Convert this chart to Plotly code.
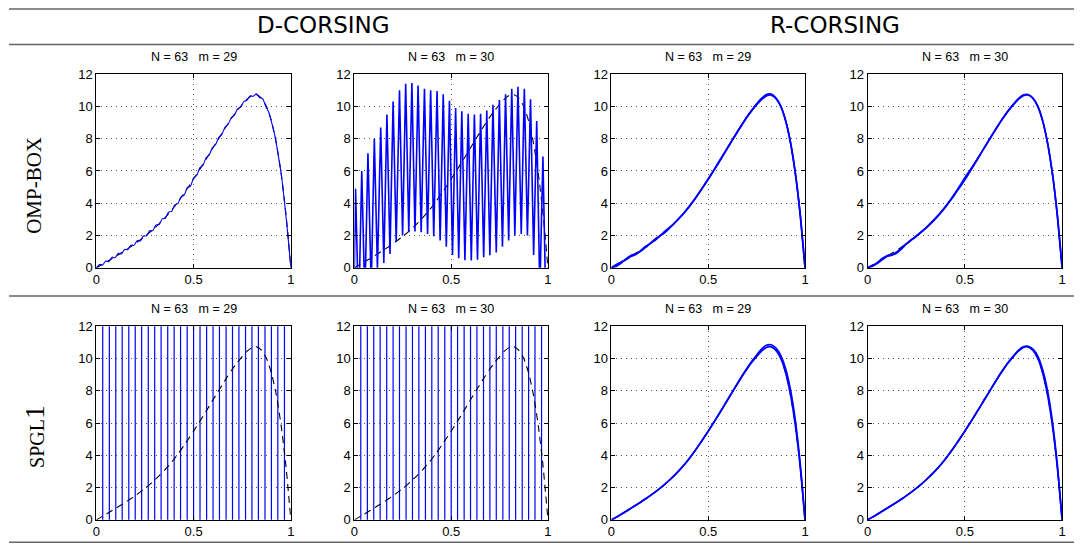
import numpy as np
import plotly.graph_objects as go
from plotly.subplots import make_subplots

W, H = 1083, 559
BLUE = "#0000ff"

# ---- exact solution on a uniform grid -------------------------------------
x_exact = np.linspace(0, 1, 41)
u_exact = [0, 0.17, 0.35, 0.53, 0.72, 0.9, 1.09, 1.29, 1.5, 1.72, 1.95, 2.2,
           2.47, 2.76, 3.07, 3.4, 3.77, 4.17, 4.6, 5.04, 5.5, 5.97, 6.45, 6.94,
           7.44, 7.93, 8.42, 8.9, 9.35, 9.76, 10.12, 10.45, 10.68, 10.72, 10.5,
           10.0, 9.1, 7.75, 5.85, 3.3, 0]

# ---- D-CORSING, OMP-BOX, m = 29 -------------------------------------------
x_fine = np.linspace(0, 1, 63)
u_omp_d29 = [0, 0.2, 0.18, 0.42, 0.38, 0.66, 0.62, 0.9, 0.86, 1.14, 1.12, 1.4,
             1.39, 1.68, 1.66, 1.97, 1.98, 2.3, 2.3, 2.65, 2.68, 3.03, 3.07,
             3.45, 3.5, 3.9, 3.98, 4.4, 4.5, 4.97, 5.06, 5.57, 5.72, 6.2, 6.35,
             6.82, 7.0, 7.45, 7.63, 8.07, 8.27, 8.71, 8.89, 9.3, 9.46, 9.84,
             9.95, 10.3, 10.38, 10.65, 10.63, 10.78, 10.55, 10.48, 10.0, 9.62,
             8.92, 8.1, 6.95, 5.72, 4.0, 2.12, 0]

# ---- D-CORSING, OMP-BOX, m = 30 (oscillating reconstruction) --------------
peak_x = [0.006, 0.038, 0.070, 0.103, 0.136, 0.168, 0.200, 0.233, 0.265, 0.297,
          0.329, 0.362, 0.394, 0.427, 0.459, 0.491, 0.523, 0.555, 0.588, 0.620,
          0.652, 0.684, 0.716, 0.749, 0.781, 0.813, 0.845, 0.878, 0.910, 0.942,
          0.974]
peak_u = [4.9, 6.0, 7.1, 8.0, 8.7, 9.5, 10.3, 11.0, 11.4, 11.45, 11.3, 11.1,
          11.0, 10.95, 10.75, 10.35, 9.9, 9.7, 9.55, 9.5, 9.55, 9.75, 10.1,
          10.4, 10.75, 11.1, 11.22, 11.1, 10.45, 9.1, 6.9]
trough_x = [0.022, 0.054, 0.087, 0.119, 0.152, 0.184, 0.216, 0.249, 0.281,
            0.313, 0.345, 0.378, 0.410, 0.443, 0.475, 0.507, 0.539, 0.571,
            0.604, 0.636, 0.668, 0.700, 0.733, 0.765, 0.797, 0.829, 0.862,
            0.894, 0.926, 0.958, 0.990]
trough_u = [-3.0, -2.0, -1.2, -0.1, 0.3, 0.85, 1.6, 2.0, 2.2, 2.25, 2.2, 2.1,
            1.95, 1.7, 1.3, 0.8, 0.6, 0.47, 0.45, 0.5, 0.65, 0.78, 0.95, 1.3,
            1.7, 2.0, 2.1, 2.0, 0.8, -1.5, -3.0]

# ---- D-CORSING, SPGL1: off-scale spikes ------------------------------------
spike_x = [0.033, 0.067, 0.100, 0.133, 0.167, 0.200, 0.233, 0.267, 0.300,
           0.333, 0.367, 0.400, 0.433, 0.467, 0.500, 0.533, 0.567, 0.600,
           0.633, 0.667, 0.700, 0.733, 0.767, 0.800, 0.833, 0.867, 0.900,
           0.933, 0.967]
spike_lo, spike_hi = -1.0e3, 1.0e3

# ---- R-CORSING reconstructions (two trials each) ---------------------------
u_omp_r29 = [
    [0, 0.1, 0.3, 0.55, 0.76, 0.86, 1.02, 1.25, 1.52, 1.78, 1.98, 2.25, 2.5,
     2.77, 3.07, 3.4, 3.78, 4.18, 4.61, 5.05, 5.52, 5.99, 6.48, 6.97, 7.46,
     7.95, 8.43, 8.9, 9.36, 9.78, 10.16, 10.5, 10.74, 10.76, 10.52, 10.02,
     9.1, 7.73, 5.82, 3.28, 0],
    [0, 0.2, 0.36, 0.5, 0.7, 0.82, 1.06, 1.32, 1.5, 1.7, 1.97, 2.18, 2.46,
     2.76, 3.08, 3.41, 3.76, 4.16, 4.59, 5.03, 5.48, 5.95, 6.43, 6.92, 7.42,
     7.91, 8.4, 8.88, 9.33, 9.74, 10.1, 10.42, 10.65, 10.7, 10.48, 9.98,
     9.12, 7.78, 5.88, 3.33, 0],
]
u_omp_r30 = [
    [0, 0.1, 0.28, 0.5, 0.7, 0.78, 0.92, 1.18, 1.48, 1.74, 1.98, 2.22, 2.48,
     2.78, 3.1, 3.43, 3.8, 4.2, 4.64, 5.1, 5.58, 6.02, 6.48, 6.95, 7.45,
     7.94, 8.43, 8.9, 9.35, 9.77, 10.14, 10.48, 10.7, 10.74, 10.52, 10.02,
     9.12, 7.76, 5.86, 3.3, 0],
    [0, 0.14, 0.32, 0.58, 0.75, 0.82, 0.98, 1.24, 1.5, 1.72, 1.94, 2.2, 2.46,
     2.74, 3.05, 3.38, 3.75, 4.15, 4.58, 5.0, 5.45, 5.93, 6.43, 6.93, 7.43,
     7.92, 8.41, 8.89, 9.34, 9.75, 10.11, 10.44, 10.67, 10.71, 10.49, 9.99,
     9.09, 7.73, 5.83, 3.28, 0],
]
u_spg_r29 = [
    [0, 0.16, 0.34, 0.52, 0.71, 0.9, 1.09, 1.29, 1.5, 1.72, 1.95, 2.2, 2.47,
     2.76, 3.07, 3.4, 3.77, 4.17, 4.6, 5.04, 5.5, 5.97, 6.45, 6.94, 7.44,
     7.94, 8.44, 8.93, 9.4, 9.83, 10.22, 10.58, 10.82, 10.85, 10.65, 10.18,
     9.35, 8.05, 6.15, 3.5, 0],
    [0, 0.17, 0.35, 0.53, 0.72, 0.9, 1.09, 1.29, 1.5, 1.72, 1.95, 2.2, 2.47,
     2.76, 3.07, 3.4, 3.77, 4.17, 4.6, 5.04, 5.5, 5.97, 6.45, 6.94, 7.44,
     7.93, 8.42, 8.9, 9.35, 9.76, 10.12, 10.45, 10.68, 10.72, 10.5, 10.0,
     9.1, 7.75, 5.85, 3.3, 0],
]
u_spg_r30 = [
    [0, 0.17, 0.35, 0.53, 0.72, 0.9, 1.09, 1.29, 1.5, 1.72, 1.95, 2.2, 2.47,
     2.76, 3.07, 3.4, 3.77, 4.17, 4.6, 5.04, 5.5, 5.97, 6.45, 6.94, 7.44,
     7.93, 8.43, 8.92, 9.38, 9.8, 10.17, 10.5, 10.72, 10.76, 10.58, 10.15,
     9.3, 8.0, 6.1, 3.45, 0],
    [0, 0.17, 0.35, 0.53, 0.72, 0.9, 1.09, 1.29, 1.5, 1.72, 1.95, 2.2, 2.47,
     2.76, 3.07, 3.4, 3.77, 4.17, 4.6, 5.04, 5.5, 5.97, 6.45, 6.94, 7.44,
     7.93, 8.42, 8.9, 9.35, 9.76, 10.12, 10.45, 10.68, 10.72, 10.5, 10.0,
     9.1, 7.75, 5.85, 3.3, 0],
]

panel_titles = ["N = 63\u00a0\u00a0\u00a0m = 29", "N = 63\u00a0\u00a0\u00a0m = 30"] * 4
x_ticks = [0, 0.5, 1]
x_ticktext = ["0", "0.5", "1"]
y_ticks = [0, 2, 4, 6, 8, 10, 12]

# ---- figure ----------------------------------------------------------------
fig = make_subplots(rows=2, cols=4)

col_px = [(93, 289), (353, 548), (612, 807), (870, 1066)]
row_px = [(69, 268), (328, 527)]


def exact_trace(row, col):
    fig.add_trace(go.Scatter(x=x_exact, y=u_exact, mode="lines",
                             line=dict(color="black", width=1.1, dash="7px,5px",
                                       shape="spline", smoothing=0.6),
                             hoverinfo="skip"), row=row, col=col)


def blue_trace(x, y, row, col, shape="linear", width=1.3):
    line = dict(color=BLUE, width=width, shape=shape)
    if shape == "spline":
        line["smoothing"] = 0.6
    fig.add_trace(go.Scatter(x=x, y=y, mode="lines", line=line,
                             hoverinfo="skip"), row=row, col=col)


# row 1, col 1
exact_trace(1, 1)
blue_trace(x_fine, u_omp_d29, 1, 1, shape="spline", width=1.1)

# row 1, col 2
osc_x, osc_u = [0.0], [0.0]
for px, pu, tx, tu in zip(peak_x, peak_u, trough_x, trough_u):
    osc_x += [px, tx]
    osc_u += [pu, tu]
osc_x.append(1.0)
osc_u.append(0.0)
exact_trace(1, 2)
blue_trace(osc_x, osc_u, 1, 2, width=1.6)

# row 1, cols 3-4
for c, curves in ((3, u_omp_r29), (4, u_omp_r30)):
    exact_trace(1, c)
    for u in curves:
        blue_trace(x_exact, u, 1, c, shape="spline", width=1.7)

# row 2, cols 1-2
sx, sy = [], []
for i, c in enumerate(spike_x):
    a, b = (spike_lo, spike_hi) if i % 2 == 0 else (spike_hi, spike_lo)
    sx += [c, c, None]
    sy += [a, b, None]
for c in (1, 2):
    blue_trace(sx, sy, 2, c, width=1.2)
    exact_trace(2, c)

# row 2, cols 3-4
for c, curves in ((3, u_spg_r29), (4, u_spg_r30)):
    exact_trace(2, c)
    for u in curves:
        blue_trace(x_exact, u, 2, c, shape="spline", width=1.7)

# axes layout
tick_font = dict(family="Liberation Sans, Arial, sans-serif", size=13, color="black")
axis_common = dict(showline=True, linecolor="black", linewidth=1, mirror="ticks",
                   ticks="inside", ticklen=4, tickcolor="black",
                   showgrid=True, gridcolor="#555", griddash="1px,4px", gridwidth=1,
                   zeroline=False, tickfont=tick_font)

layout_axes = {}
annotations = []
for r in range(2):
    for c in range(4):
        idx = r * 4 + c + 1
        suffix = "" if idx == 1 else str(idx)
        x0, x1 = col_px[c]
        y0, y1 = row_px[r]
        layout_axes["xaxis" + suffix] = dict(axis_common, domain=[x0 / W, x1 / W],
                                             range=[0, 1], tickvals=x_ticks,
                                             ticktext=x_ticktext)
        layout_axes["yaxis" + suffix] = dict(axis_common, domain=[1 - y1 / H, 1 - y0 / H],
                                             range=[0, 12], tickvals=y_ticks)
        annotations.append(dict(x=(x0 + x1) / 2 / W, y=1 - (y0 - 18) / H,
                                xref="paper", yref="paper", xanchor="center",
                                yanchor="middle", showarrow=False,
                                text=panel_titles[idx - 1],
                                font=dict(family="Liberation Sans, Arial, sans-serif",
                                          size=12.5, color="black")))

# column headers
for text, cx in (("D-CORSING", 322), ("R-CORSING", 837)):
    annotations.append(dict(x=cx / W, y=1 - 19 / H, xref="paper", yref="paper",
                            xanchor="center", yanchor="middle", showarrow=False,
                            text=text, font=dict(family="DejaVu Sans", size=23,
                                                 color="black")))

# row labels
annotations.append(dict(x=30 / W, y=1 - 183 / H, xref="paper", yref="paper",
                        xanchor="center", yanchor="middle", showarrow=False,
                        textangle=-90, text="OMP-BOX",
                        font=dict(family="Liberation Serif, serif", size=21,
                                  color="black")))
annotations.append(dict(x=30 / W, y=1 - 441 / H, xref="paper", yref="paper",
                        xanchor="center", yanchor="middle", showarrow=False,
                        textangle=-90,
                        text="SPGL<span style='font-size:28px'>1</span>",
                        font=dict(family="Liberation Serif, serif", size=20,
                                  color="black")))

# horizontal rules
shapes = []
for yy in (2, 38.5, 297, 550):
    shapes.append(dict(type="line", xref="paper", yref="paper",
                       x0=5 / W, x1=1078 / W, y0=1 - yy / H, y1=1 - yy / H,
                       line=dict(color="#666", width=1.5)))

fig.update_layout(width=W, height=H, margin=dict(l=0, r=0, t=0, b=0),
                  paper_bgcolor="white", plot_bgcolor="white", showlegend=False,
                  annotations=annotations, shapes=shapes, **layout_axes)

fig.write_html("out.html")
